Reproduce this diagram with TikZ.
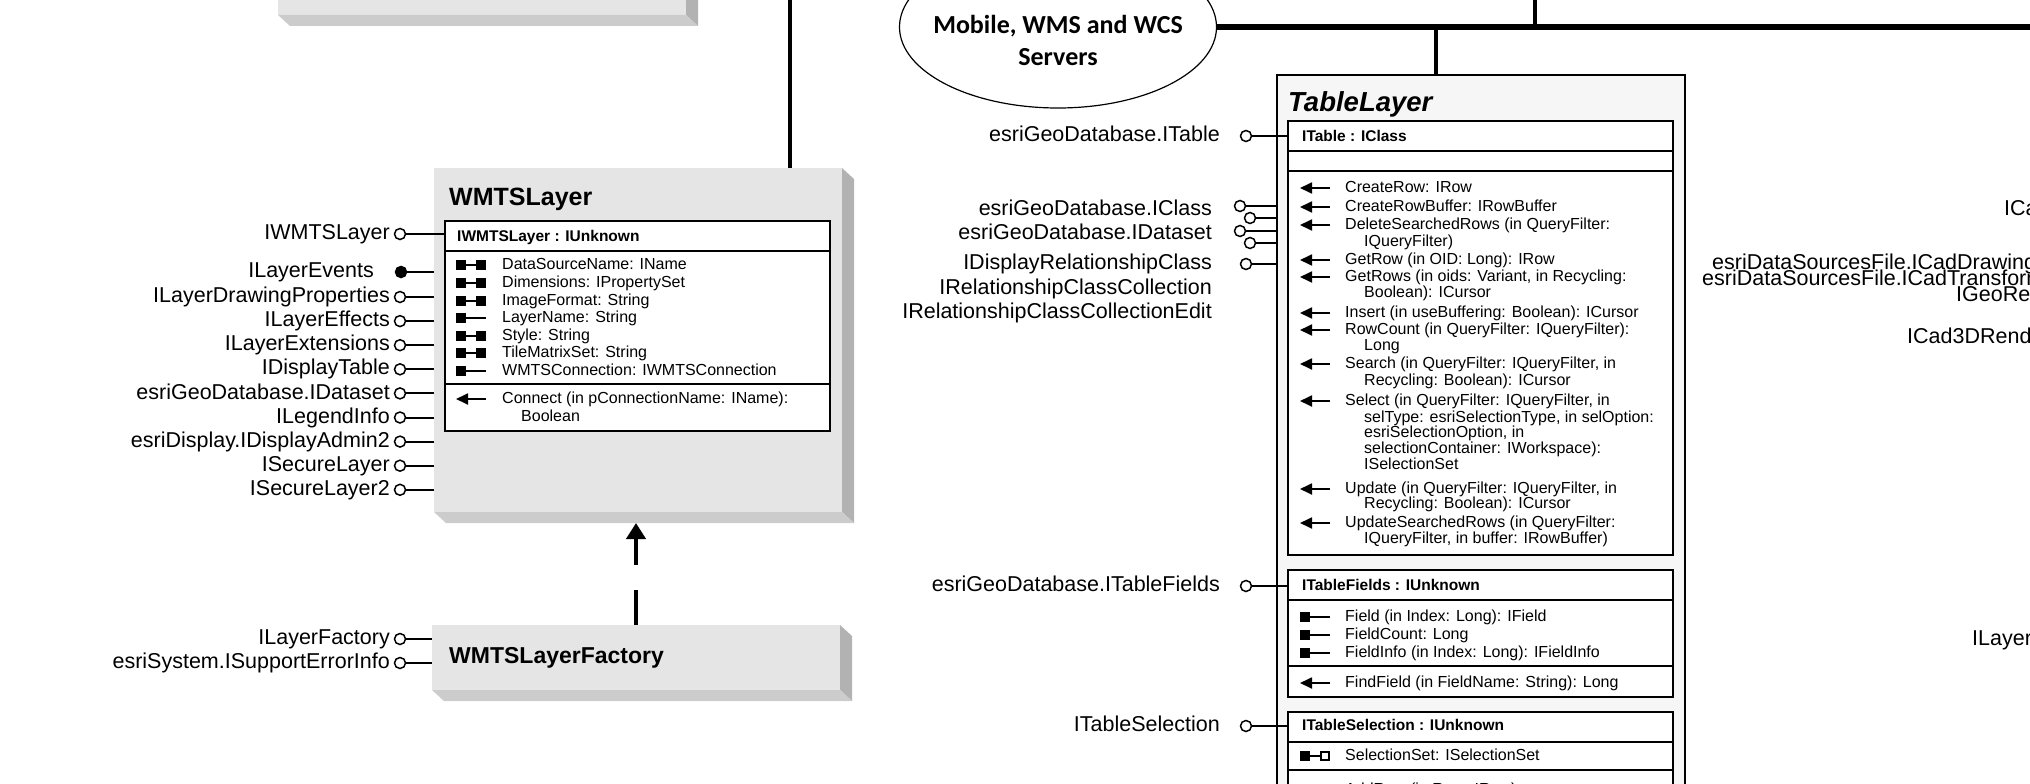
\documentclass[tikz,border=0pt]{standalone}
\usepackage{fontspec}
\setmainfont{Liberation Sans}
\newfontfamily\calfont{Carlito}
\usetikzlibrary{shapes.geometric,calc,arrows.meta}

\definecolor{facegray}{RGB}{229,229,229}
\definecolor{botgray}{RGB}{204,204,204}
\definecolor{sidegray}{RGB}{178,178,178}
\definecolor{tlgray}{RGB}{246,246,246}

% raised look of a class box
\newcommand{\boxdepth}[1]{%
  \fill[sidegray] (#1.north east) -- ++(12,11) -- ($(#1.south east)+(12,11)$) -- (#1.south east) -- cycle;
  \fill[botgray] (#1.south west) -- ++(12,11) -- ($(#1.south east)+(12,11)$) -- (#1.south east) -- cycle;}
% member symbols
\newcommand{\symrw}[2]{\fill (#1,#2-5) rectangle ++(10,10); \draw[line width=1.8pt] (#1+9,#2) -- (#1+21,#2); \fill (#1+20,#2-5) rectangle ++(10,10);}
\newcommand{\symr}[2]{\fill (#1,#2-5) rectangle ++(10,10); \draw[line width=1.8pt] (#1+9,#2) -- (#1+30,#2);}
\newcommand{\symrp}[2]{\fill (#1,#2-5) rectangle ++(10,10); \draw[line width=1.8pt] (#1+9,#2) -- (#1+21,#2); \draw[line width=1.3pt,fill=white] (#1+21,#2-4) rectangle ++(8,8);}
\newcommand{\symm}[2]{\draw[line width=1.8pt,-{Triangle[length=12pt,width=11pt]}] (#1+30,#2) -- (#1,#2);}
\newcommand{\symc}[2]{}

\begin{document}
\begin{tikzpicture}[x=1pt,y=-1pt,
	face/.style={fill=facegray,inner sep=0pt,outer sep=0pt,anchor=north west,minimum width=408pt},
	ttl/.style={anchor=base west,inner sep=0pt,font=\fontsize{25}{30}\selectfont\bfseries},
	hdr/.style={anchor=mid west,inner sep=0pt,yshift=-2pt,font=\fontsize{15.5}{18}\selectfont\bfseries},
	row/.style={anchor=mid west,inner sep=0pt,yshift=-2pt,font=\fontsize{16}{18}\selectfont},
	ifc/.style={anchor=mid east,inner sep=0pt,yshift=-3pt,font=\fontsize{21.5}{24}\selectfont},
	lolli/.style={circle,draw,line width=1.5pt,minimum size=11pt,inner sep=0pt,fill=white},
	ifline/.style={line width=2pt},
	ibox/.style={line width=1.6pt,fill=white},
	bus/.style={line width=6pt},
	gen/.style={line width=4pt,dash pattern=on 35pt off 25pt,-{Triangle[length=16pt,width=19pt]}}]
	\useasboundingbox (0,0) rectangle (2030,784);
	\clip (0,0) rectangle (2030,784);

	% class boxes on the left
	\node[face,minimum height=95pt] (tlf) at (278,-80) {};
	\boxdepth{tlf}
	\node[face,minimum height=344pt] (wmts) at (434,168) {};
	\boxdepth{wmts}
	\node[face,minimum height=65pt] (fact) at (432,625) {};
	\boxdepth{fact}
	\node[ttl] (wmtst) at (449,205) {WMTSLayer};
	\node[ttl,font=\fontsize{23}{28}\selectfont\bfseries] (factt) at (449,663) {WMTSLayerFactory};

	\coordinate (wtop) at (790,-10);
	\draw[line width=3.5pt] (wtop) -- (wtop |- wmts.north);
	\coordinate (wbot) at (636,523);
	\draw[gen] (fact.north) -- (wbot);

	% WMTSLayer interface
	\draw[ibox] (445,221) rectangle (830,431);
	\draw[line width=1.6pt] (445,251) -- (830,251) (445,384) -- (830,384);
	\node[hdr] (wh) at (457,237) {IWMTSLayer : IUnknown};
	\foreach \y/\s/\dx/\t [count=\k] in {265/rw/0/{DataSourceName: IName}, 283/rw/0/{Dimensions: IPropertySet},
		301/rw/0/{ImageFormat: String}, 318/r/0/{LayerName: String}, 336/rw/0/{Style: String},
		353/rw/0/{TileMatrixSet: String}, 371/r/0/{WMTSConnection: IWMTSConnection},
		399/m/0/{Connect (in pConnectionName: IName):}, 417/c/19/{Boolean}}{
		\csname sym\s\endcsname{456}{\y}
		\node[row] (wr\k) at (502+\dx,\y) {\t};
	}

	\node[ifc] (wl0) at (390,234) {IWMTSLayer};
	\node[lolli] (wc0) at (400,234) {};
	\coordinate (we0) at (445,234);
	\draw[ifline] (wc0) -- (we0);
	\node[ifc] (wlev) at (374,272) {ILayerEvents};
	\node[lolli,fill=black] (wcev) at (401,272) {};
	\coordinate (weev) at (434,272);
	\draw[ifline] (wcev) -- (weev);
	\foreach \t [count=\i] in {ILayerDrawingProperties, ILayerEffects, ILayerExtensions, IDisplayTable,
		esriGeoDatabase.IDataset, ILegendInfo, esriDisplay.IDisplayAdmin2, ISecureLayer, ISecureLayer2}{
		\pgfmathsetmacro\y{297+24.1*(\i-1)}
		\node[ifc] (wl\i) at (390,\y) {\t};
		\node[lolli] (wc\i) at (400,\y) {};
		\coordinate (we\i) at (434,\y);
		\draw[ifline] (wc\i) -- (we\i);
	}
	\foreach \t/\y [count=\i] in {ILayerFactory/639, esriSystem.ISupportErrorInfo/663}{
		\node[ifc] (fl\i) at (390,\y) {\t};
		\node[lolli] (fc\i) at (400,\y) {};
		\coordinate (fe\i) at (432,\y);
		\draw[ifline] (fc\i) -- (fe\i);
	}

	% servers and bus
	\node[ellipse,draw,line width=1.2pt,minimum width=317pt,minimum height=162pt,inner sep=0pt] (srv) at (1058,27) {};
	\node[align=center,inner sep=0pt,font=\calfont\bfseries\fontsize{26}{32}\selectfont] (srvt) at (1058,40) {Mobile, WMS and WCS\\Servers};
	\coordinate (busr) at (2040,27);
	\draw[bus] (srv.east) -- (busr);
	\coordinate (j1) at (1535,27);
	\coordinate (j1t) at (1535,-10);
	\draw[line width=4.5pt] (j1) -- (j1t);
	\coordinate (j2) at (1436,27);

	% TableLayer
	\node[face,fill=tlgray,draw,line width=1.6pt,minimum height=760pt] (tl) at (1277,75) {};
	\draw[line width=4.5pt] (j2) -- (j2 |- tl.north);
	\node[ttl,font=\fontsize{27.5}{32}\selectfont\bfseries\itshape] (tlt) at (1288,111) {TableLayer};

	\draw[ibox] (1288,121) rectangle (1673,555);
	\draw[line width=1.6pt] (1288,151) -- (1673,151) (1288,171) -- (1673,171);
	\draw[ibox] (1288,570) rectangle (1673,697);
	\draw[line width=1.6pt] (1288,600) -- (1673,600) (1288,666) -- (1673,666);
	\draw[ibox] (1288,712) rectangle (1673,800);
	\draw[line width=1.6pt] (1288,742) -- (1673,742) (1288,770) -- (1673,770);
	\node[hdr] (th1) at (1302,137) {ITable : IClass};
	\node[hdr] (th2) at (1302,586) {ITableFields : IUnknown};
	\node[hdr] (th3) at (1302,726) {ITableSelection : IUnknown};

	\foreach \y/\s/\dx/\t [count=\k] in {188/m/0/{CreateRow: IRow}, 207/m/0/{CreateRowBuffer: IRowBuffer},
		225/m/0/{DeleteSearchedRows (in QueryFilter:}, 242/c/19/{IQueryFilter)},
		260/m/0/{GetRow (in OID: Long): IRow}, 277/m/0/{GetRows (in oids: Variant, in Recycling:},
		293/c/19/{Boolean): ICursor}, 313/m/0/{Insert (in useBuffering: Boolean): ICursor},
		330/m/0/{RowCount (in QueryFilter: IQueryFilter):}, 346/c/19/{Long},
		364/m/0/{Search (in QueryFilter: IQueryFilter, in}, 381/c/19/{Recycling: Boolean): ICursor},
		401/m/0/{Select (in QueryFilter: IQueryFilter, in}, 418/c/19/{selType: esriSelectionType, in selOption:},
		433/c/19/{esriSelectionOption, in}, 449/c/19/{selectionContainer: IWorkspace):}, 465/c/19/{ISelectionSet},
		489/m/0/{Update (in QueryFilter: IQueryFilter, in}, 504/c/19/{Recycling: Boolean): ICursor},
		523/m/0/{UpdateSearchedRows (in QueryFilter:}, 539/c/19/{IQueryFilter, in buffer: IRowBuffer)},
		617/r/0/{Field (in Index: Long): IField}, 635/r/0/{FieldCount: Long},
		653/r/0/{FieldInfo (in Index: Long): IFieldInfo}, 683/m/0/{FindField (in FieldName: String): Long},
		756/rp/0/{SelectionSet: ISelectionSet}, 790/m/0/{AddRow (in Row: IRow)}}{
		\csname sym\s\endcsname{1300}{\y}
		\node[row] (tr\k) at (1345+\dx,\y) {\t};
	}

	% TableLayer interfaces
	\foreach \t/\y [count=\i] in {esriGeoDatabase.ITable/136, esriGeoDatabase.ITableFields/586, ITableSelection/726}{
		\node[ifc] (tl\i) at (1220,\y) {\t};
		\node[lolli] (tc\i) at (1246,\y) {};
		\coordinate (te\i) at (1288,\y);
		\draw[ifline] (tc\i) -- (te\i);
	}
	\node[ifc] (tcl) at (1212,210) {esriGeoDatabase.IClass};
	\node[ifc] (tds) at (1212,234) {esriGeoDatabase.IDataset};
	\foreach \x/\y [count=\i] in {1240/206, 1250/218, 1240/231, 1250/243, 1246/264}{
		\node[lolli] (tq\i) at (\x,\y) {};
		\coordinate (tqe\i) at (1277,\y);
		\draw[ifline] (tq\i) -- (tqe\i);
	}
	\node[ifc] (trl1) at (1212,264) {IDisplayRelationshipClass};
	\node[ifc] (trl2) at (1212,289) {IRelationshipClassCollection};
	\node[ifc] (trl3) at (1212,313) {IRelationshipClassCollectionEdit};

	% labels of the next class, cut by the edge
	\node[ifc,anchor=mid west] (cl1) at (2004,210) {ICadLayer};
	\node[ifc,anchor=mid west] (cl2) at (1712,264) {esriDataSourcesFile.ICadDrawingLayers};
	\node[ifc,anchor=mid west] (cl3) at (1702,280) {esriDataSourcesFile.ICadTransformations};
	\node[ifc,anchor=mid west] (cl4) at (1956,296) {IGeoReference};
	\node[ifc,anchor=mid west] (cl5) at (1907,338) {ICad3DRenderer};
	\node[ifc,anchor=mid west] (cl6) at (1972,640) {ILayerInfo};
\end{tikzpicture}
\end{document}
